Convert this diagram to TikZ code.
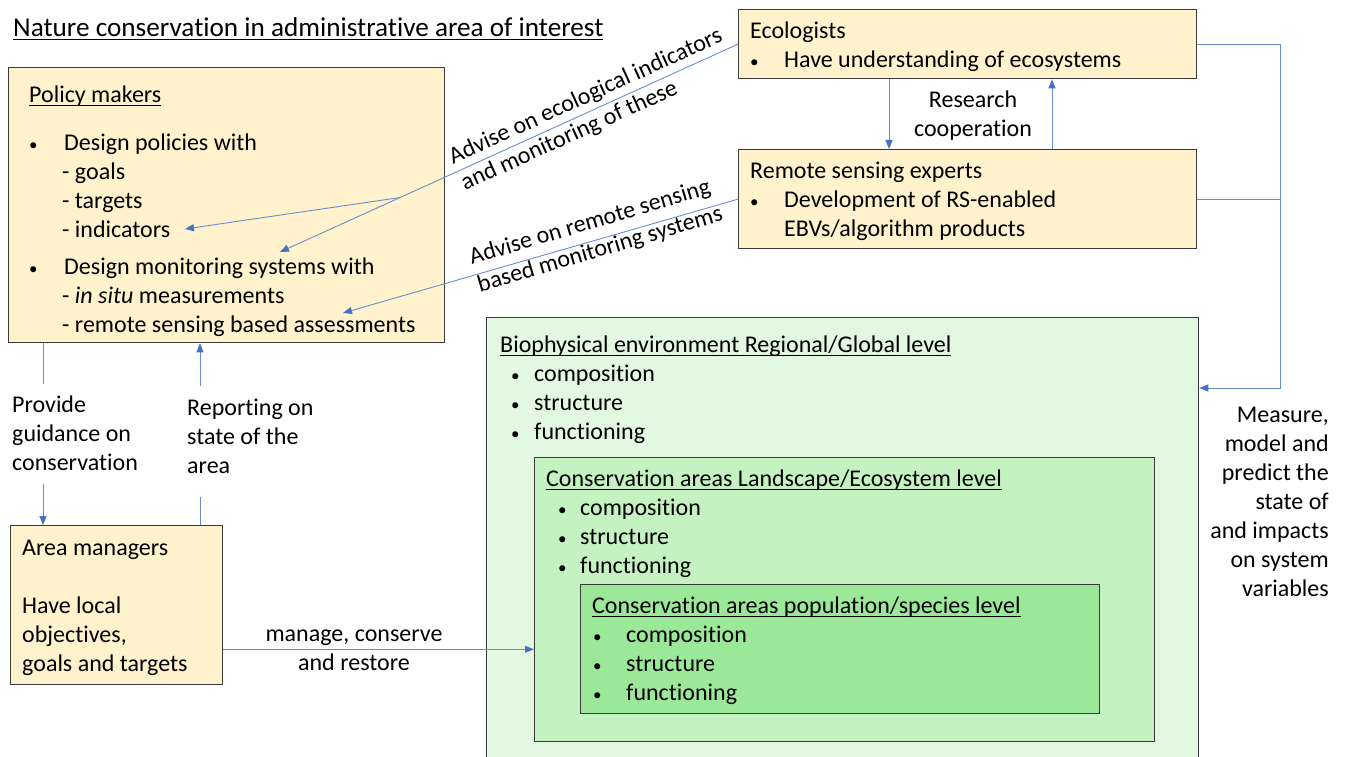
\documentclass[tikz,border=0pt]{standalone}
\usepackage{fontspec}
\setmainfont{Carlito}[Ligatures={NoCommon}]
\usetikzlibrary{arrows.meta,calc}
\definecolor{yel}{HTML}{FFF2CC}
\definecolor{gA}{HTML}{E3F8E1}
\definecolor{gB}{HTML}{C4F2C1}
\definecolor{gC}{HTML}{9AE898}
\definecolor{bl}{HTML}{4472C4}
\definecolor{edgec}{HTML}{3B3B3B}
\newcommand\myul[1]{\setbox0\hbox{#1}\rlap{\rule[-3.5pt]{\wd0}{1pt}}\box0}
\newcommand\mybul[1]{\makebox[#1][l]{{\fontsize{17}{17}\selectfont\textbullet}}}
\tikzset{
  box/.style={draw=edgec, line width=1.3pt, inner sep=0pt, anchor=north west},
  txt/.style={inner sep=0pt, anchor=north west, align=left, font=\fontsize{24}{29}\selectfont, execute at begin node={\strut}},
  conn/.style={draw=bl!80!white, line width=0.9pt},
  arr/.style={conn, -{Triangle[length=9pt,width=7pt,fill=bl,color=bl]}}
}
\begin{document}
\begin{tikzpicture}[x=1pt,y=-1pt]
\path[use as bounding box, fill=white] (0,0) rectangle (1345,757);

% boxes
\node[box, fill=yel, minimum width=436pt, minimum height=275pt] (pm) at (8,67) {};
\node[box, fill=yel, minimum width=458pt, minimum height=69pt] (eco) at (738,9) {};
\node[box, fill=yel, minimum width=458pt, minimum height=99pt] (rs) at (738,149) {};
\node[box, fill=yel, minimum width=212pt, minimum height=159pt] (am) at (10,525) {};
\node[box, fill=gA, minimum width=712pt, minimum height=470pt] (bio) at (486,317) {};
\node[box, fill=gB, minimum width=620pt, minimum height=284pt] (land) at (534,457) {};
\node[box, fill=gC, minimum width=519pt, minimum height=129pt] (pop) at (580,584) {};

% title
\node[txt, font=\fontsize{27.2}{29}\selectfont] (title) at (13,16) {\myul{Nature conservation in administrative area of interest}};

% box texts
\node[txt] (pmt) at (29,86) {\myul{Policy makers}\\[19pt]
\mybul{35pt}Design policies with\\
\hspace*{33pt}- goals\\
\hspace*{33pt}- targets\\
\hspace*{33pt}- indicators\\[8pt]
\mybul{35pt}Design monitoring systems with\\
\hspace*{33pt}- \textit{in situ} measurements\\
\hspace*{33pt}- remote sensing based assessments};

\node[txt] (ecot) at (750,21.7) {Ecologists\\
\mybul{34pt}Have understanding of ecosystems};

\node[txt] (rst) at (750,161.5) {Remote sensing experts\\
\mybul{34pt}Development of RS-enabled\\
\hspace*{34pt}EBVs/algorithm products};

\node[txt, anchor=north, align=center] (coop) at (973,90.5) {Research\\cooperation};

\node[txt] (guide) at (12,395.7) {Provide\\guidance on\\conservation};
\node[txt] (report) at (187,398.7) {Reporting on\\state of the\\area};

\node[txt] (amt) at (22,539.5) {Area managers\\[29pt]Have local\\objectives,\\goals and targets};

\node[txt, anchor=north, align=center] (manage) at (354,629.5) {manage, conserve\\and restore};

\node[txt] (biot) at (500,335.7) {\myul{Biophysical environment Regional/Global level}\\
\hspace*{11pt}\mybul{23pt}composition\\
\hspace*{11pt}\mybul{23pt}structure\\
\hspace*{11pt}\mybul{23pt}functioning};

\node[txt] (landt) at (546,469.7) {\myul{Conservation areas Landscape/Ecosystem level}\\
\hspace*{12pt}\mybul{22pt}composition\\
\hspace*{12pt}\mybul{22pt}structure\\
\hspace*{12pt}\mybul{22pt}functioning};

\node[txt] (popt) at (592,596.7) {\myul{Conservation areas population/species level}\\
\hspace*{1pt}\mybul{33pt}composition\\
\hspace*{1pt}\mybul{33pt}structure\\
\hspace*{1pt}\mybul{33pt}functioning};

\node[txt, anchor=north east, align=right] (measure) at (1329,406.7) {Measure,\\model and\\predict the\\state of\\and impacts\\on system\\variables};

% rotated labels
\node[txt, rotate=24.5] (lab1) at (446,149) {Advise on ecological indicators\\and monitoring of these};
\node[txt, rotate=16.5] (lab2) at (467,248.5) {Advise on remote sensing\\based monitoring systems};

% connectors
\coordinate (dmtip) at (280,252);
\coordinate (inditip) at (185,229);
\coordinate (rstip) at (343,313);
\draw[arr] (eco.west) -- (dmtip);
\coordinate (branch) at ($(eco.west)!0.738!(dmtip)$);
\draw[arr] (branch) -- (inditip);
\draw[arr] (rs.west) -- (rstip);

\draw[arr] ([xshift=151pt]eco.south west) -- ([xshift=151pt]rs.north west);
\draw[arr] ([xshift=314pt]rs.north west) -- ([xshift=314pt]eco.south west);

\coordinate (xr) at (1280,0);
\draw[arr] (eco.east) -- (eco.east -| xr) |- ([yshift=-71pt]bio.north east);
\draw[conn] (rs.east) -- (rs.east -| xr);

\coordinate (g1) at (43,384);
\coordinate (g2) at (43,484);
\draw[conn] (pm.south -| g1) -- (g1);
\draw[arr] (g2) -- (am.north -| g2);

\coordinate (r1) at (200,497);
\coordinate (r2) at (200,386);
\draw[conn] (am.north -| r1) -- (r1);
\draw[arr] (r2) -- (pm.south -| r2);

\draw[arr] ([yshift=36pt]am.south east) coordinate (m1) -- (m1 -| land.west);
\end{tikzpicture}
\end{document}
